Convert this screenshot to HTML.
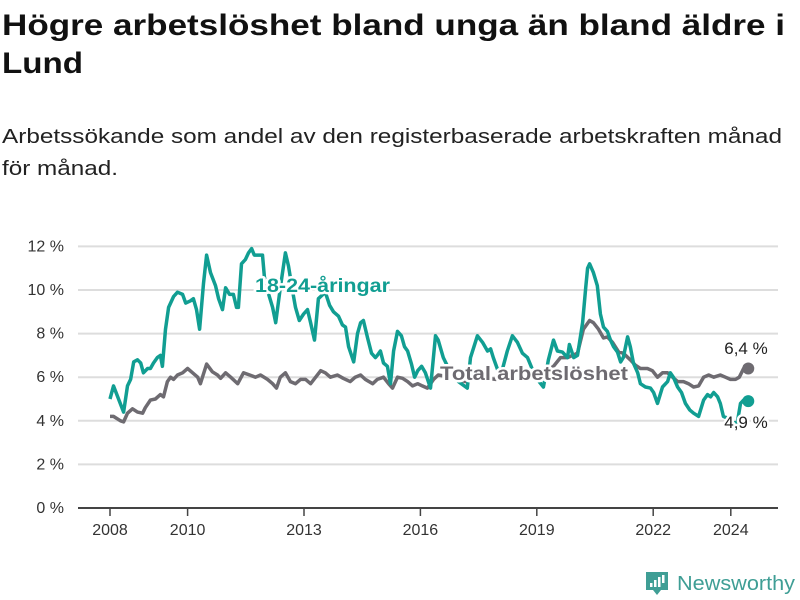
<!DOCTYPE html>
<html><head><meta charset="utf-8">
<style>
body{margin:0;width:800px;height:600px;background:#fff;overflow:hidden;font-family:"Liberation Sans",sans-serif;}
svg{position:absolute;left:0;top:0}
</style></head><body>
<svg width="800" height="200" style="position:absolute;left:0;top:0">
  <text x="2" y="35" font-size="30" font-weight="bold" fill="#111" textLength="783" lengthAdjust="spacingAndGlyphs">Högre arbetslöshet bland unga än bland äldre i</text>
  <text x="2" y="73" font-size="30" font-weight="bold" fill="#111" textLength="81" lengthAdjust="spacingAndGlyphs">Lund</text>
  <text x="2" y="143" font-size="20.5" fill="#222" textLength="780" lengthAdjust="spacingAndGlyphs">Arbetssökande som andel av den registerbaserade arbetskraften månad</text>
  <text x="2" y="175" font-size="20.5" fill="#222" textLength="116" lengthAdjust="spacingAndGlyphs">för månad.</text>
</svg>
<svg id="chart" width="800" height="600"></svg>
<script>
const yTicks=[0,2,4,6,8,10,12];
const xTickYears=[2008,2010,2013,2016,2019,2022,2024];
const youthDates=[2008.00,2008.09,2008.35,2008.45,2008.53,2008.61,2008.71,2008.79,2008.86,2008.97,2009.04,2009.12,2009.22,2009.30,2009.35,2009.43,2009.51,2009.64,2009.74,2009.87,2009.95,2010.07,2010.15,2010.23,2010.31,2010.41,2010.49,2010.59,2010.72,2010.80,2010.90,2010.98,2011.08,2011.18,2011.26,2011.31,2011.39,2011.49,2011.57,2011.65,2011.72,2011.80,2011.93,2011.98,2012.09,2012.19,2012.27,2012.39,2012.52,2012.60,2012.70,2012.78,2012.88,2012.99,2013.09,2013.17,2013.27,2013.37,2013.43,2013.55,2013.66,2013.76,2013.89,2013.99,2014.07,2014.15,2014.28,2014.38,2014.46,2014.53,2014.64,2014.74,2014.84,2014.89,2014.97,2015.05,2015.15,2015.23,2015.31,2015.41,2015.51,2015.59,2015.67,2015.77,2015.85,2015.93,2016.03,2016.13,2016.26,2016.39,2016.46,2016.59,2016.78,2016.98,2017.21,2017.29,2017.47,2017.60,2017.73,2017.81,2017.88,2018.06,2018.24,2018.37,2018.50,2018.63,2018.76,2018.97,2019.17,2019.30,2019.43,2019.53,2019.66,2019.79,2019.84,2019.95,2020.05,2020.18,2020.26,2020.31,2020.36,2020.46,2020.56,2020.64,2020.72,2020.82,2020.90,2020.98,2021.08,2021.16,2021.23,2021.34,2021.41,2021.49,2021.60,2021.67,2021.80,2021.93,2022.01,2022.11,2022.24,2022.37,2022.44,2022.52,2022.63,2022.73,2022.83,2022.94,2023.04,2023.17,2023.30,2023.40,2023.48,2023.56,2023.66,2023.73,2023.81,2023.94,2024.07,2024.17,2024.25,2024.33,2024.45];
const youthValues=[5.0,5.6,4.4,5.6,5.9,6.7,6.8,6.65,6.2,6.4,6.4,6.65,6.9,7.0,6.5,8.2,9.2,9.7,9.9,9.8,9.4,9.5,9.6,9.1,8.2,10.3,11.6,10.8,10.2,9.6,9.1,10.1,9.8,9.8,9.2,9.2,11.2,11.4,11.7,11.9,11.6,11.6,11.6,10.6,9.8,9.2,8.5,10.1,11.7,11.1,10.0,9.2,8.6,8.9,9.1,8.5,7.7,9.6,9.7,9.9,9.3,9.0,8.8,8.4,8.3,7.4,6.7,8.0,8.5,8.6,7.8,7.1,6.9,7.0,7.2,6.65,6.5,5.7,7.2,8.1,7.9,7.4,7.2,6.6,6.0,6.3,6.5,6.2,5.5,7.9,7.7,6.9,6.2,5.8,5.5,6.9,7.9,7.6,7.2,7.3,6.9,6.0,7.2,7.9,7.6,7.1,6.9,6.0,5.55,6.8,7.7,7.2,7.15,6.9,7.5,6.9,7.0,8.5,10.1,11.0,11.2,10.8,10.2,8.9,8.3,8.1,7.7,7.4,7.15,6.7,6.9,7.85,7.4,6.65,6.2,5.7,5.55,5.5,5.3,4.8,5.55,5.8,6.2,6.0,5.55,5.3,4.8,4.5,4.35,4.2,4.95,5.2,5.1,5.3,5.1,4.8,4.2,4.1,3.9,3.95,4.8,4.95,4.9];
const totalDates=[2008.00,2008.09,2008.27,2008.35,2008.45,2008.58,2008.71,2008.84,2008.91,2009.04,2009.17,2009.30,2009.38,2009.48,2009.56,2009.64,2009.74,2009.87,2010.00,2010.13,2010.26,2010.33,2010.49,2010.64,2010.77,2010.85,2010.98,2011.11,2011.29,2011.44,2011.60,2011.75,2011.88,2012.06,2012.19,2012.29,2012.39,2012.52,2012.65,2012.78,2012.91,2013.04,2013.17,2013.43,2013.55,2013.68,2013.86,2014.01,2014.19,2014.32,2014.46,2014.58,2014.77,2014.89,2015.05,2015.18,2015.28,2015.41,2015.54,2015.67,2015.80,2015.93,2016.05,2016.18,2016.34,2016.46,2016.78,2017.16,2017.55,2017.94,2018.32,2018.71,2019.10,2019.43,2019.61,2019.79,2020.05,2020.20,2020.36,2020.46,2020.59,2020.72,2020.82,2020.95,2021.11,2021.23,2021.41,2021.54,2021.67,2021.85,2021.98,2022.11,2022.24,2022.37,2022.50,2022.63,2022.78,2022.91,2023.04,2023.17,2023.30,2023.43,2023.56,2023.73,2023.86,2023.99,2024.12,2024.22,2024.33,2024.45];
const totalValues=[4.2,4.2,4.0,3.95,4.35,4.55,4.4,4.35,4.6,4.95,5.0,5.2,5.1,5.8,6.0,5.9,6.1,6.2,6.4,6.2,6.0,5.7,6.6,6.25,6.1,5.95,6.2,6.0,5.7,6.2,6.1,6.0,6.1,5.9,5.7,5.5,6.0,6.2,5.8,5.7,5.9,5.9,5.7,6.3,6.2,6.0,6.1,5.95,5.8,6.0,6.1,5.9,5.7,5.9,6.0,5.7,5.5,6.0,5.95,5.8,5.6,5.7,5.6,5.5,5.9,6.1,6.0,5.8,6.0,5.9,6.1,5.9,6.1,6.5,6.9,6.9,7.1,8.2,8.6,8.5,8.2,7.8,7.85,7.6,7.15,7.1,6.8,6.55,6.4,6.4,6.3,6.0,6.2,6.2,6.0,5.8,5.8,5.7,5.55,5.6,6.0,6.1,6.0,6.1,6.0,5.9,5.9,6.0,6.4,6.4];

const NS='http://www.w3.org/2000/svg';
const svg=document.getElementById('chart');
const X0=110,PX_YEAR=38.8,Y0=508,PX_PCT=21.8;
function xScale(t){return X0+(t-2008)*PX_YEAR;}
function yScale(v){return Y0-v*PX_PCT;}
function mk(tag,attrs,parent){const e=document.createElementNS(NS,tag);for(const k in attrs)e.setAttribute(k,attrs[k]);(parent||svg).appendChild(e);return e;}
const TEAL='#119e92',GREY='#6e6b71';

for(const v of yTicks){
  const g=mk('line',{x1:78,x2:778,y1:yScale(v),y2:yScale(v),stroke:v===0?'#444':'#dddddd','stroke-width':2});
  
  
  const t=mk('text',{x:64,y:yScale(v)+5,'text-anchor':'end','font-size':16,fill:'#333'});
  t.textContent=v+' %';
  
  
}
for(const yr of xTickYears){
  const tk=mk('line',{x1:xScale(yr),x2:xScale(yr),y1:509,y2:516,stroke:'#444','stroke-width':1.5});
  
  
  const t=mk('text',{x:xScale(yr),y:535,'text-anchor':'middle','font-size':16,fill:'#333'});
  t.textContent=yr;
  
  
}
function path(d,v){return d.map((t,i)=>(i?'L':'M')+xScale(t).toFixed(1)+','+yScale(v[i]).toFixed(1)).join('');}
const pt=mk('path',{d:path(totalDates,totalValues),fill:'none',stroke:GREY,'stroke-width':3.5,'stroke-linejoin':'round'});


const py=mk('path',{d:path(youthDates,youthValues),fill:'none',stroke:TEAL,'stroke-width':3.5,'stroke-linejoin':'round'});


const lt=totalDates.length-1, ly=youthDates.length-1;
const dt=mk('circle',{cx:xScale(totalDates[lt]),cy:yScale(totalValues[lt]),r:6,fill:GREY});


const dy=mk('circle',{cx:xScale(youthDates[ly]),cy:yScale(youthValues[ly]),r:6,fill:TEAL});


function lbl(txt,x,y,opts,name){
  const t=mk('text',Object.assign({x:x,y:y,stroke:'#fff','stroke-width':5,'paint-order':'stroke','stroke-linejoin':'round'},opts));
  t.textContent=txt;
  
  
}
lbl('18-24-åringar',255,292,{'font-size':19,'font-weight':'bold',fill:TEAL,textLength:135,lengthAdjust:'spacingAndGlyphs'},'youth-series-label');
lbl('Total arbetslöshet',440,380,{'font-size':19,'font-weight':'bold',fill:GREY,textLength:188,lengthAdjust:'spacingAndGlyphs'},'total-series-label');
lbl('6,4 %',746,354,{'text-anchor':'middle','font-size':17,fill:'#222'},'total-end-value');
lbl('4,9 %',746,428,{'text-anchor':'middle','font-size':17,fill:'#222'},'youth-end-value');
</script>
<svg width="800" height="600" style="position:absolute;left:0;top:0">
  <path d="M646 572h22v18h-7l-4 5-4-5h-7z" fill="#3f9e95"/>
  <rect x="650" y="583" width="2.5" height="4" fill="#fff"/>
  <rect x="654" y="580" width="2.5" height="7" fill="#fff"/>
  <rect x="658" y="577" width="2.5" height="10" fill="#fff"/>
  <rect x="662" y="575" width="2.5" height="8" fill="#fff"/>
  <text x="677" y="590" font-size="20" font-family="Liberation Sans, sans-serif" fill="#3f9e95" textLength="118" lengthAdjust="spacingAndGlyphs">Newsworthy</text>
</svg>
</body></html>
